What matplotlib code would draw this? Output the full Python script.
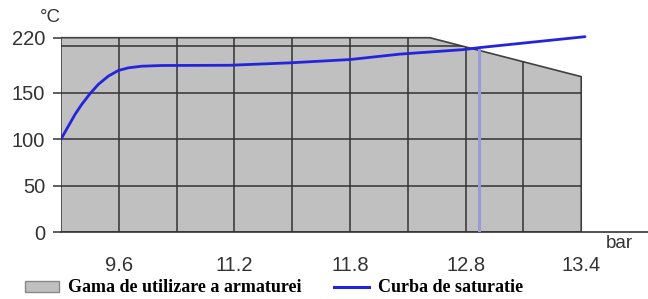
import numpy as np
import matplotlib
matplotlib.use('Agg')
import matplotlib.pyplot as plt
from matplotlib.patches import Polygon, Patch
from matplotlib.lines import Line2D

# valori (x = pozitia pe grila, y = grade C)
curve_x = [0.0, 0.126, 0.242, 0.358, 0.502, 0.645, 0.818, 0.991, 1.164, 1.396,
           1.742, 2.924, 3.962, 5.0, 5.865, 6.955, 7.23, 9.066]
curve_t = [100, 113.8, 126.5, 137.3, 148.9, 160.5, 171.0, 178.2, 181.6, 183.7,
           184.6, 184.9, 188.0, 192.2, 199.1, 204.8, 207.3, 221.3]

range_x = [0, 0, 6.38, 9.0, 9.0]
range_t = [0, 220, 220, 170.4, 0]

xtick_pos = [1, 3, 5, 7, 9]
xtick_labels = ['9.6', '11.2', '11.8', '12.8', '13.4']
ytick_vals = [0, 50, 100, 150, 220]
grid_x = [1, 2, 3, 4, 5, 6, 7, 8]
grid_t = [50, 100, 150, 210]
marker_x = 7.23

# axa y este comprimata peste 150
K = 0.845
def fwd(v):
    v = np.asarray(v, float)
    return np.where(v <= 150, v, 150 + (v - 150) * K)

def inv(t):
    t = np.asarray(t, float)
    return np.where(t <= 150, t, 150 + (t - 150) / K)

plt.rcParams['font.family'] = ['Liberation Sans', 'DejaVu Sans']

fig = plt.figure(figsize=(6.48, 2.99), dpi=100)
ax = fig.add_axes([61 / 648, 67 / 299, 587 / 648, 199 / 299])
ax.set_yscale('function', functions=(fwd, inv))
ax.set_xlim(0, 587 / 57.8)
ax.set_ylim(0, 226)

poly = Polygon(np.column_stack([range_x, range_t]), closed=True,
               facecolor='#c0c0c0', edgecolor='#404040', lw=1.2, zorder=1)
ax.add_patch(poly)

vl = ax.vlines(grid_x, 0, 230, colors='#333333', lw=1.1, zorder=2)
vl.set_clip_path(poly)
hl = ax.hlines(grid_t, 0, 10, colors='#333333', lw=1.1, zorder=2)
hl.set_clip_path(poly)

ax.vlines(marker_x, 0, np.interp(marker_x, curve_x, curve_t),
          colors='#9a9ad8', lw=2.2, zorder=3)
ax.plot(curve_x, curve_t, color='#2424dc', lw=2.0, zorder=4,
        solid_capstyle='round')

for s in ['top', 'right', 'left']:
    ax.spines[s].set_visible(False)
ax.spines['bottom'].set_color('#333333')
ax.spines['bottom'].set_linewidth(1.2)

ax.set_xticks(xtick_pos)
ax.set_xticklabels(xtick_labels)
ax.set_yticks(ytick_vals)
ax.set_yticklabels([str(v) for v in ytick_vals])
ax.yaxis.set_minor_locator(matplotlib.ticker.NullLocator())
ax.tick_params(axis='x', length=0, pad=17, labelsize=14.5, labelcolor='#333333')
ax.tick_params(axis='y', length=5.8, width=1.1, color='#333333', pad=5.5,
               labelsize=14.5, labelcolor='#333333')

fig.text(50 / 648, 1 - 18 / 299, '°C', ha='center', va='center',
         fontsize=13.5, color='#333333')
fig.text(619 / 648, 1 - 244 / 299, 'bar', ha='center', va='center',
         fontsize=13.5, color='#333333')

handles = [Patch(facecolor='#c0c0c0', edgecolor='#888888', lw=1.0),
           Line2D([0], [0], color='#2424dc', lw=2.2)]
labels = ['Gama de utilizare a armaturei', 'Curba de saturatie']
fig.legend(handles, labels, loc='center left', ncol=2, frameon=False,
           bbox_to_anchor=(25 / 648, 1 - 288 / 299), borderaxespad=0,
           borderpad=0, handlelength=1.9, handleheight=0.55,
           handletextpad=0.5, columnspacing=1.8,
           prop={'family': 'Liberation Serif', 'weight': 'bold', 'size': 13})

fig.savefig('out.png', dpi=100)
